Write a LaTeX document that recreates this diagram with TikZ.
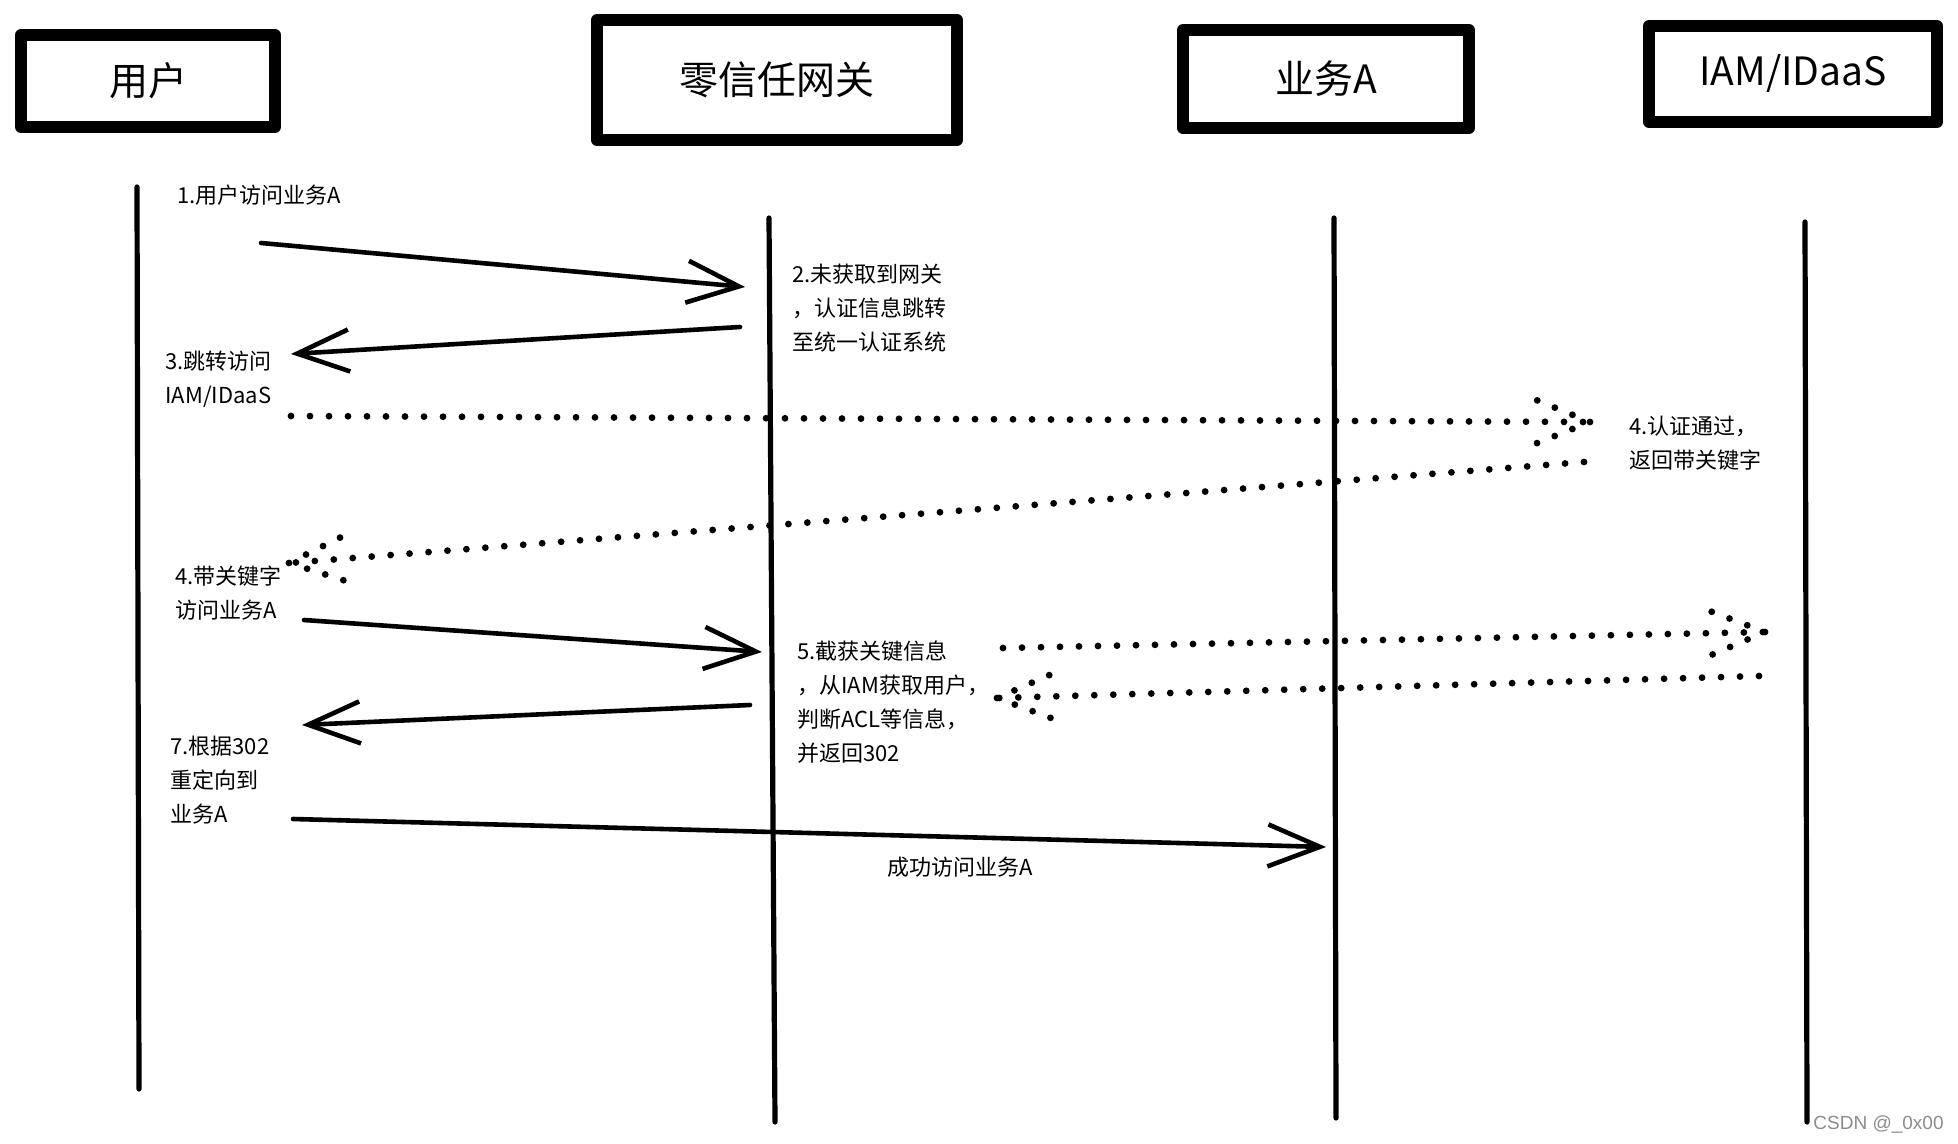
\documentclass[tikz,border=0pt]{standalone}
\usepackage{fontspec}
\setmainfont{Noto Sans CJK SC}
\usetikzlibrary{arrows.meta,calc}
\begin{document}
\begin{tikzpicture}[x=0.5pt, y=-0.5pt, font=\fontsize{11}{17}\selectfont, line join=round, line cap=round,
  actor/.style={draw, line width=5.8pt, inner sep=0pt, font=\fontsize{19.5}{23}\selectfont},
  life/.style={line width=2.6pt},
  msg/.style={line width=2.3pt, -{Straight Barb[length=26pt,width=21pt,line width=2.3pt]}},
  dots/.style={line width=3.4pt, dash pattern=on 0pt off 9.5pt},
  note/.style={anchor=north west, align=left, inner sep=0pt}]
 \useasboundingbox (0,0) rectangle (1958,1144);
 % participants
 \node[actor, minimum width=127pt, minimum height=46pt] (user) at (148,81) {用户};
 \node[actor, minimum width=180pt, minimum height=60pt] (gw) at (777,80) {零信任网关};
 \node[actor, minimum width=143pt, minimum height=49pt] (biz) at (1326,79) {业务A};
 \node[actor, minimum width=144pt, minimum height=48pt] (iam) at (1793,74) {IAM/IDaaS};
 % lifelines
 \coordinate (userT) at (137,187); \coordinate (userB) at (139,1089);
 \coordinate (gwT) at (769,218); \coordinate (gwB) at (775,1122);
 \coordinate (bizT) at (1334,218); \coordinate (bizB) at (1336,1118);
 \coordinate (iamT) at (1805,222); \coordinate (iamB) at (1807,1122);
 \draw[life] (userT) -- (userB);
 \draw[life] (gwT) -- (gwB);
 \draw[life] (bizT) -- (bizB);
 \draw[life] (iamT) -- (iamB);
 % solid messages
 \coordinate (s1a) at (261,243); \coordinate (s1b) at (745,287);
 \coordinate (s2a) at (740,327); \coordinate (s2b) at (291,354);
 \coordinate (s3a) at (304,620); \coordinate (s3b) at (762,652);
 \coordinate (s4a) at (750,705); \coordinate (s4b) at (302,725);
 \coordinate (s5a) at (293,819); \coordinate (s5b) at (1326,847);
 \draw[msg] (s1a) -- (s1b);
 \draw[msg] (s2a) -- (s2b);
 \draw[msg] (s3a) -- (s3b);
 \draw[msg] (s4a) -- (s4b);
 \draw[msg] (s5a) -- (s5b);
 % dotted messages
 \coordinate (d1a) at (291,416); \coordinate (d1b) at (1590,422);
 \coordinate (d2a) at (1584,462); \coordinate (d2b) at (289,563);
 \coordinate (d3a) at (1003,648); \coordinate (d3b) at (1765,632);
 \coordinate (d4a) at (1759,676); \coordinate (d4b) at (997,698);
 \draw[dots] (d1a) -- (d1b);
 \draw[dots] (d1b) -- ($(d1b)!30pt!22:(d1a)$) (d1b) -- ($(d1b)!30pt!-22:(d1a)$);
 \draw[dots] (d2a) -- (d2b);
 \draw[dots] (d2b) -- ($(d2b)!30pt!22:(d2a)$) (d2b) -- ($(d2b)!30pt!-22:(d2a)$);
 \draw[dots] (d3a) -- (d3b);
 \draw[dots] (d3b) -- ($(d3b)!30pt!22:(d3a)$) (d3b) -- ($(d3b)!30pt!-22:(d3a)$);
 \draw[dots] (d4a) -- (d4b);
 \draw[dots] (d4b) -- ($(d4b)!30pt!22:(d4a)$) (d4b) -- ($(d4b)!30pt!-22:(d4a)$);
 % labels
 \node[note] (n1) at (177,185) {1.用户访问业务A};
 \node[note] (n2) at (792,264) {2.未获取到网关\\，认证信息跳转\\至统一认证系统};
 \node[note] (n3) at (165,351) {3.跳转访问\\IAM/IDaaS};
 \node[note] (n4b) at (1629,416) {4.认证通过，\\返回带关键字};
 \node[note] (n4a) at (175,565) {4.带关键字\\访问业务A};
 \node[note] (n5) at (797,640) {5.截获关键信息\\，从IAM获取用户，\\判断ACL等信息，\\并返回302};
 \node[note] (n7) at (170,736) {7.根据302\\重定向到\\业务A};
 \node (ok) at (960,867) {成功访问业务A};
 \node[anchor=east, inner sep=0pt, text=black!45, font=\fontspec{Liberation Sans}\fontsize{9.5}{11}\selectfont] (mark) at (1944,1124) {CSDN @\_0x00};
\end{tikzpicture}
\end{document}
